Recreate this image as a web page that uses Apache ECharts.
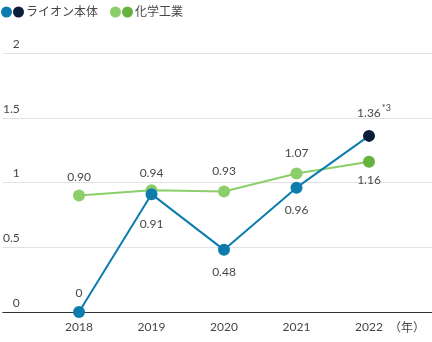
<!DOCTYPE html>
<html>
<head>
<meta charset="utf-8">
<script src="https://cdn.jsdelivr.net/npm/echarts@6/dist/echarts.min.js"></script>
<style>
html,body{margin:0;padding:0;background:#fff;}
#chart{width:432px;height:342px;}
</style>
</head>
<body>
<div id="chart"></div>
<script>
// ---- data ----
const years = ['2018', '2019', '2020', '2021', '2022'];
const lionValues = [0, 0.91, 0.48, 0.96, 1.36];
const chemValues = [0.90, 0.94, 0.93, 1.07, 1.16];
const yTicks = [0, 0.5, 1, 1.5, 2];
const seriesNames = ['ライオン本体', '化学工業'];
const lionLastNote = '*3';
const unitLabel = '（年）';

// ---- style ----
const FONT = '"Lato", "Noto Sans", "Noto Sans CJK JP", sans-serif';
const TXT = '#474747';
const BLUE = '#0c7cad', NAVY = '#0b1d39';
const LGREEN = '#8cce6a', DGREEN = '#66b23e';
const lionPlace = [['top', 7], ['bottom', 18], ['bottom', 10], ['bottom', 10], ['top', 7]];
const chemPlace = [['top', 6], ['top', 5], ['top', 8], ['top', 8], ['bottom', 6]];

const fmt = v => v === 0 ? '0' : v.toFixed(2);

function buildData(values, place, baseColor, lastColor, note) {
  return values.map((v, i) => {
    const last = i === values.length - 1;
    const item = {
      value: v,
      itemStyle: { color: last ? lastColor : baseColor },
      label: { position: place[i][0], distance: place[i][1] }
    };
    if (last && note) {
      item.label.formatter = () => '{v|' + fmt(v) + '}{s|' + note + '}';
      item.label.offset = [5, 0];
    }
    return item;
  });
}

const chart = echarts.init(document.getElementById('chart'), null, { renderer: 'canvas' });

const legendRich = {
  c1: { width: 11, height: 11, borderRadius: 5.5, backgroundColor: BLUE },
  c2: { width: 11, height: 11, borderRadius: 5.5, backgroundColor: NAVY },
  g1: { width: 11, height: 11, borderRadius: 5.5, backgroundColor: LGREEN },
  g2: { width: 11, height: 11, borderRadius: 5.5, backgroundColor: DGREEN },
  sp: { width: 1 },
  t: { fontSize: 12, color: TXT, fontFamily: FONT, padding: [0, 0, 0, 2] }
};

chart.setOption({
  animation: false,
  textStyle: { fontFamily: FONT },
  legend: {
    data: [seriesNames[0], seriesNames[1]],
    left: -9, top: 1,
    itemWidth: 0, itemHeight: 0, itemGap: 7,
    icon: 'circle',
    selectedMode: false,
    formatter: name => name === seriesNames[0]
      ? '{c1|}{sp|}{c2|}{t|' + name + '}'
      : '{g1|}{sp|}{g2|}{t|' + name + '}',
    textStyle: { rich: legendRich }
  },
  grid: [
    { left: 0, right: 0, top: 53, bottom: 30, containLabel: false },
    { left: 79, right: 63, top: 53, bottom: 30, containLabel: false }
  ],
  xAxis: [
    {
      gridIndex: 0, type: 'value', min: 0, max: 1,
      axisLabel: { show: false }, axisTick: { show: false }, splitLine: { show: false },
      axisLine: { show: true, lineStyle: { color: '#333', width: 1 } }
    },
    {
      gridIndex: 1, type: 'category', data: years, boundaryGap: false,
      axisLine: { show: false }, axisTick: { show: false },
      axisLabel: { margin: 9, color: TXT, fontSize: 12, fontFamily: FONT },
      name: unitLabel, nameLocation: 'end', nameGap: 20,
      nameTextStyle: { color: TXT, fontSize: 12, fontFamily: FONT, align: 'left', verticalAlign: 'top', padding: [10, 0, 0, 0] }
    }
  ],
  yAxis: [
    {
      gridIndex: 0, type: 'value', min: yTicks[0], max: yTicks[yTicks.length - 1], interval: yTicks[1] - yTicks[0],
      axisLine: { show: false }, axisTick: { show: false },
      splitLine: { show: true, lineStyle: { color: '#e2e2e2', width: 1 } },
      axisLabel: {
        inside: true, align: 'right', margin: 17, verticalAlign: 'bottom',
        padding: [0, 0, 3, 0], color: TXT, fontSize: 12, fontFamily: FONT,
        formatter: v => String(v)
      }
    },
    {
      gridIndex: 1, type: 'value', min: yTicks[0], max: yTicks[yTicks.length - 1],
      show: false, splitLine: { show: false }
    }
  ],
  series: [
    {
      name: seriesNames[1], type: 'line', xAxisIndex: 1, yAxisIndex: 1,
      data: buildData(chemValues, chemPlace, LGREEN, DGREEN, null),
      symbol: 'circle', symbolSize: 12,
      lineStyle: { color: LGREEN, width: 2 },
      itemStyle: { color: LGREEN },
      label: { show: true, color: TXT, fontSize: 12, fontFamily: FONT, formatter: p => fmt(p.value) },
      z: 2
    },
    {
      name: seriesNames[0], type: 'line', xAxisIndex: 1, yAxisIndex: 1,
      data: buildData(lionValues, lionPlace, BLUE, NAVY, lionLastNote),
      symbol: 'circle', symbolSize: 12,
      lineStyle: { color: BLUE, width: 2 },
      itemStyle: { color: BLUE },
      label: {
        show: true, color: TXT, fontSize: 12, fontFamily: FONT, formatter: p => fmt(p.value),
        rich: {
          v: { fontSize: 12, color: TXT, fontFamily: FONT },
          s: { fontSize: 9, color: TXT, fontFamily: FONT, padding: [0, 0, 10, 1] }
        }
      },
      z: 3
    }
  ]
});
</script>
</body>
</html>
